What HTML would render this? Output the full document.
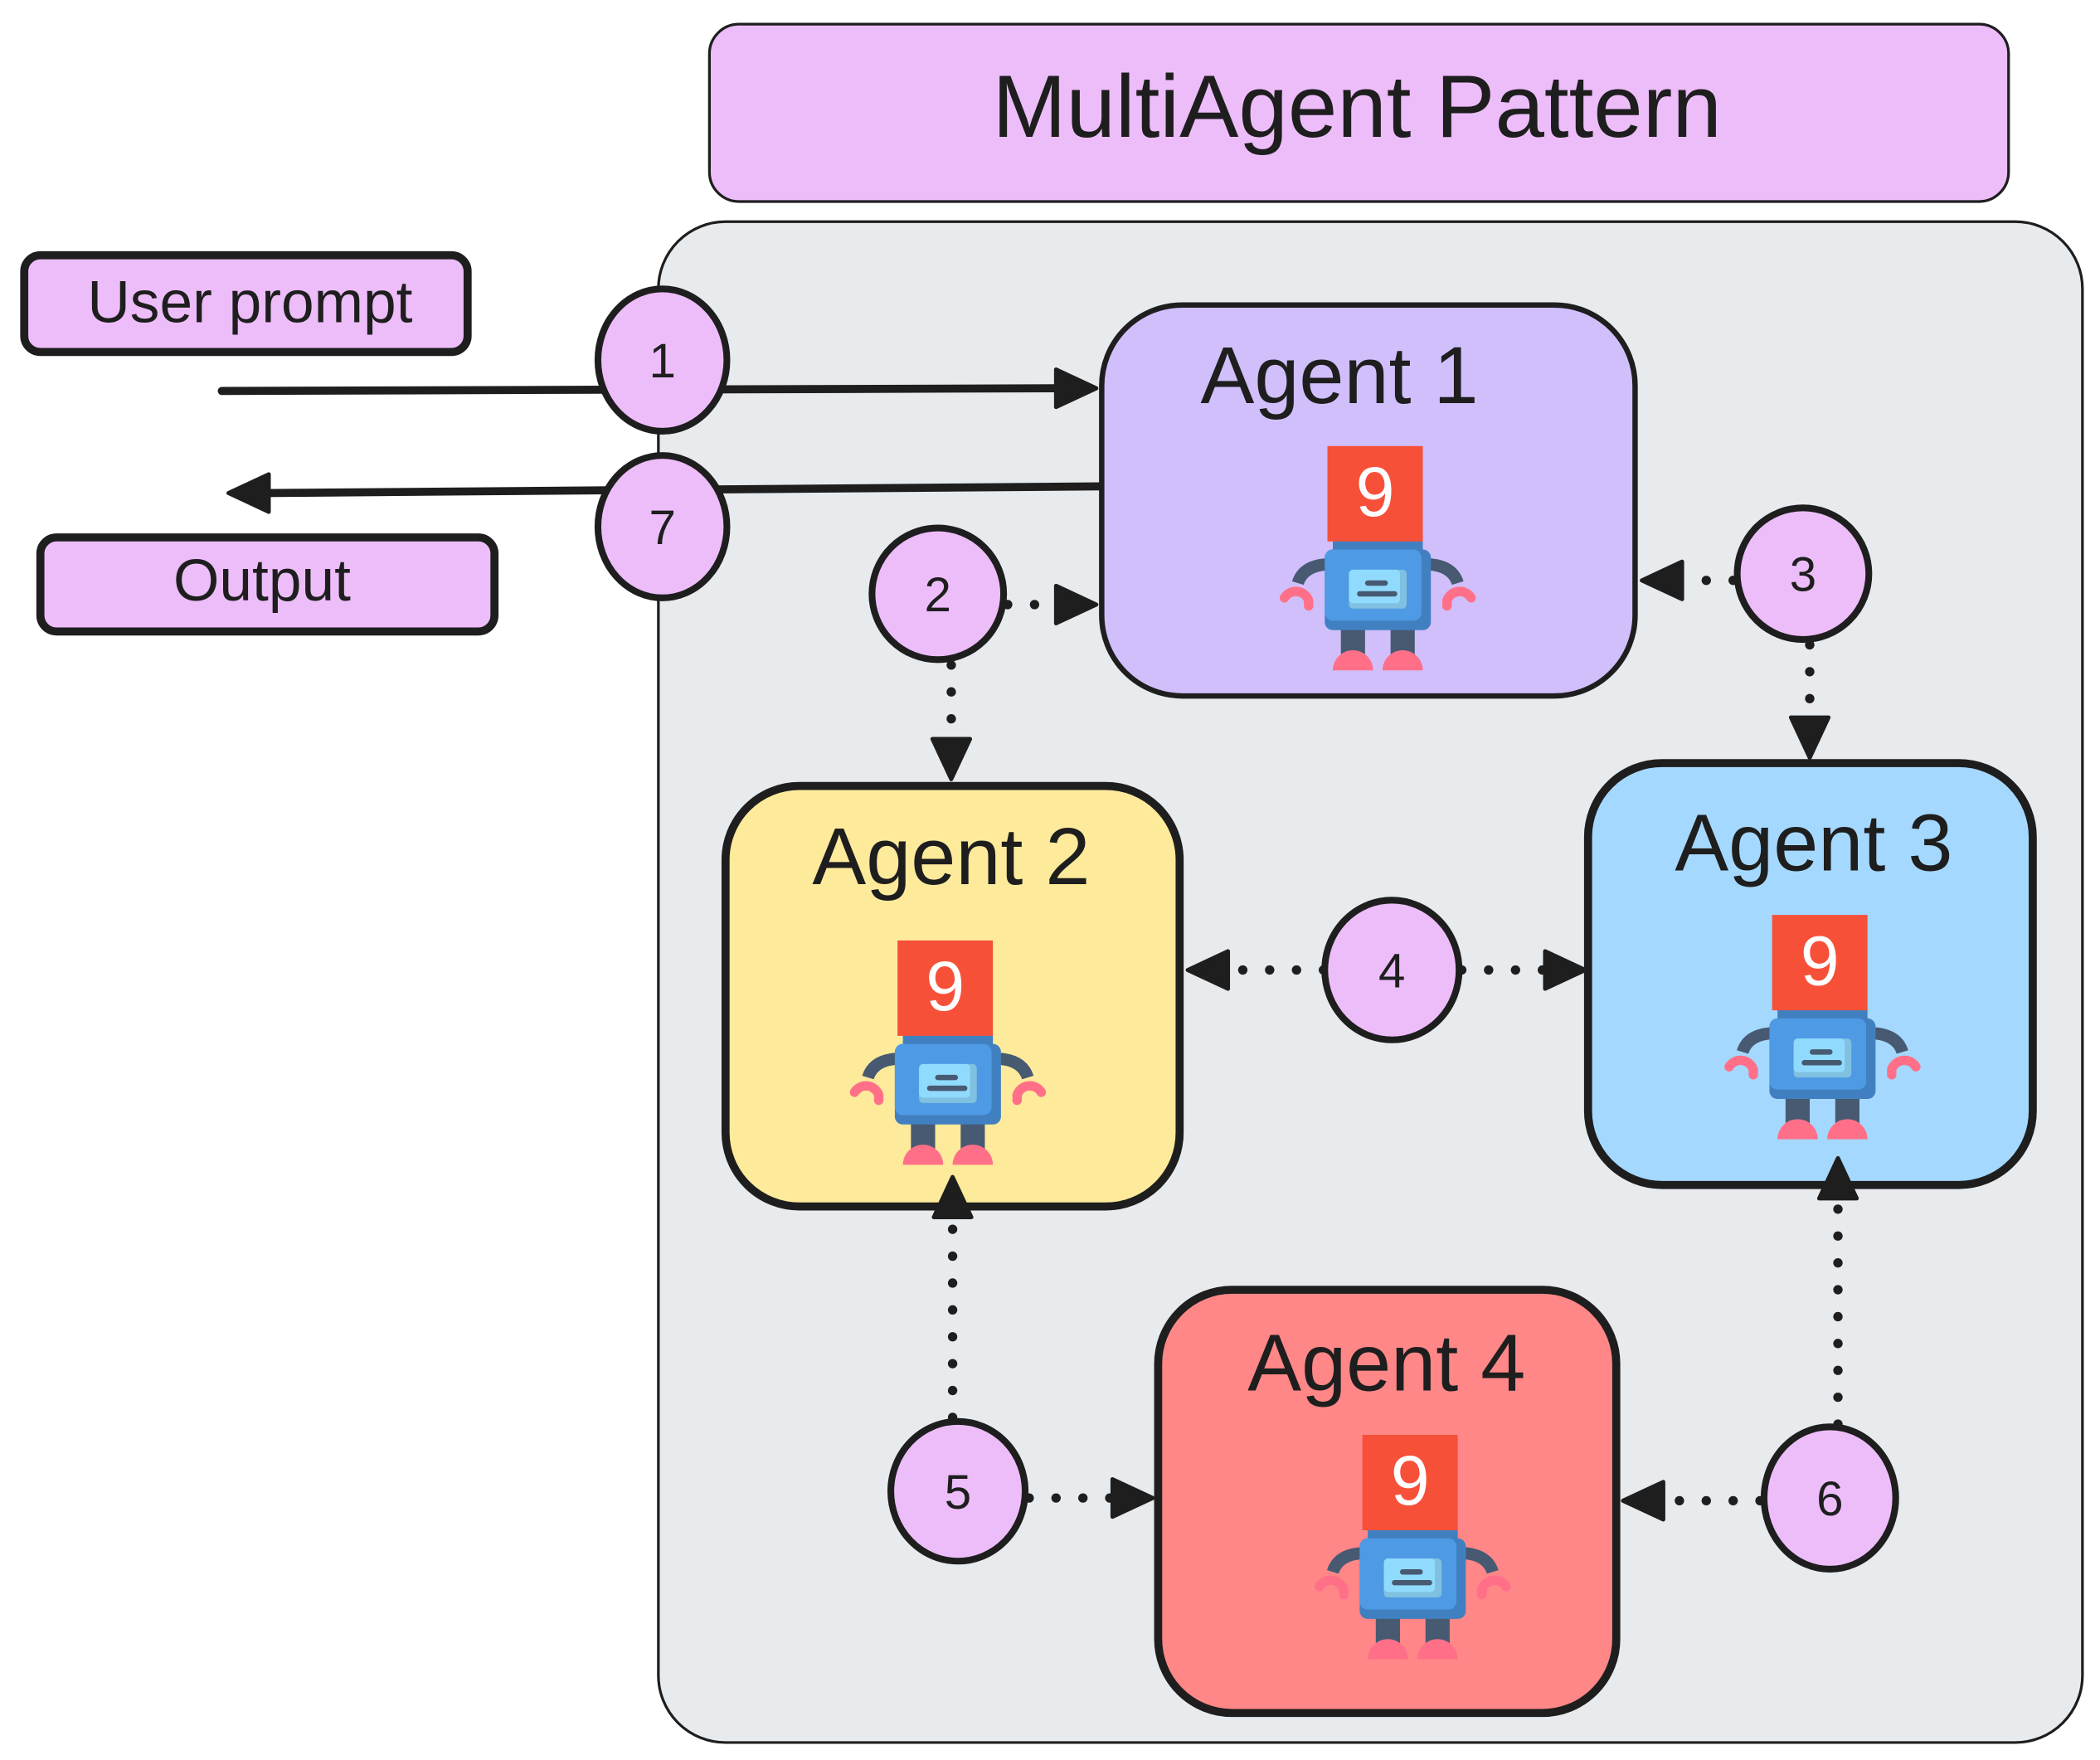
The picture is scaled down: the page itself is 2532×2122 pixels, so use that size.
<!DOCTYPE html>
<html><head><meta charset="utf-8"><style>
html,body{margin:0;padding:0;background:#fff;}
svg{display:block;}
text{font-family:"Liberation Sans","DejaVu Sans",sans-serif;fill:#1e1e1e;}
</style></head><body>
<svg width="2532" height="2122" viewBox="0 0 1563 1310" xmlns="http://www.w3.org/2000/svg">
<defs>
<g id="robot">
  <path d="M0,88 Q-18,89 -22,102" stroke="#475a72" stroke-width="9" fill="none"/>
  <path d="M75,88 Q93,89 97,102" stroke="#475a72" stroke-width="9" fill="none"/>
  <path d="M-32,113 A10,10 0 0 1 -14,115 L-14,119" stroke="#ff7088" stroke-width="7" fill="none" stroke-linecap="round"/>
  <path d="M107,113 A10,10 0 0 0 89,115 L89,119" stroke="#ff7088" stroke-width="7" fill="none" stroke-linecap="round"/>
  <rect x="10" y="135" width="18" height="20" fill="#475a72"/>
  <rect x="47" y="135" width="18" height="20" fill="#475a72"/>
  <path d="M4,167 A15,15 0 0 1 34,167 Z" fill="#ff7088"/>
  <path d="M41,167 A15,15 0 0 1 71,167 Z" fill="#ff7088"/>
  <rect x="4" y="70" width="67" height="8" fill="#4180c0"/>
  <rect x="-2" y="77" width="79" height="60" rx="6" fill="#4180c0"/>
  <rect x="-2" y="77" width="72" height="53" rx="6" fill="#4e9ae4"/>
  <rect x="16" y="92" width="43" height="29" rx="3" fill="#80c0e0"/>
  <rect x="16" y="92" width="38" height="25" rx="3" fill="#90dbfd"/>
  <line x1="30" y1="102" x2="43" y2="102" stroke="#475a72" stroke-width="4" stroke-linecap="round"/>
  <line x1="24" y1="110" x2="50" y2="110" stroke="#475a72" stroke-width="4" stroke-linecap="round"/>
  <rect x="0" y="0" width="71" height="71" fill="#f75039"/>
  <text x="35.5" y="52" font-size="52" text-anchor="middle" style="fill:#fff">9</text>
</g>
</defs>

<rect x="528" y="18" width="967" height="132" rx="22" fill="#edbdf9" stroke="#1e1e1e" stroke-width="2"/>
<text x="1010" y="102" font-size="66" text-anchor="middle">MultiAgent Pattern</text>

<rect x="490" y="165" width="1060" height="1132" rx="50" fill="#e8ebee" stroke="#1e1e1e" stroke-width="2"/>

<rect x="18" y="190" width="330" height="72" rx="12" fill="#edbdf9" stroke="#1e1e1e" stroke-width="6"/>
<text x="186" y="240" font-size="44" text-anchor="middle">User prompt</text>
<rect x="30" y="400" width="338" height="70" rx="12" fill="#edbdf9" stroke="#1e1e1e" stroke-width="6"/>
<text x="195" y="447" font-size="44" text-anchor="middle">Output</text>

<line x1="165" y1="291" x2="790" y2="289" stroke="#1e1e1e" stroke-width="6" stroke-linecap="round"/>
<polygon points="816,289 786,275 786,303" fill="#1e1e1e" stroke="#1e1e1e" stroke-width="3" stroke-linejoin="round"/>
<line x1="820" y1="362" x2="195" y2="367" stroke="#1e1e1e" stroke-width="6" stroke-linecap="round"/>
<polygon points="170,367 200,353 200,381" fill="#1e1e1e" stroke="#1e1e1e" stroke-width="3" stroke-linejoin="round"/>

<rect x="820" y="227" width="397" height="291" rx="60" fill="#d0bffb" stroke="#1e1e1e" stroke-width="4"/>
<text x="997" y="300" font-size="60" text-anchor="middle">Agent 1</text>
<use href="#robot" x="988" y="332"/>

<rect x="540" y="585" width="338" height="313" rx="55" fill="#fdea9b" stroke="#1e1e1e" stroke-width="6"/>
<text x="708" y="658" font-size="60" text-anchor="middle">Agent 2</text>
<use href="#robot" x="668" y="700"/>

<rect x="1182" y="568" width="331" height="314" rx="55" fill="#a5d8fe" stroke="#1e1e1e" stroke-width="6"/>
<text x="1350" y="648" font-size="60" text-anchor="middle">Agent 3</text>
<use href="#robot" x="1319" y="681"/>

<rect x="862" y="960" width="341" height="315" rx="55" fill="#ff8787" stroke="#1e1e1e" stroke-width="6"/>
<text x="1032" y="1035" font-size="60" text-anchor="middle">Agent 4</text>
<use href="#robot" x="1014" y="1068"/>

<g stroke="#1e1e1e" stroke-width="7" stroke-linecap="round" stroke-dasharray="0 20" fill="none">
  <line x1="750" y1="450" x2="785" y2="450"/>
  <line x1="708" y1="495" x2="708" y2="550"/>
  <line x1="1290" y1="432" x2="1255" y2="432"/>
  <line x1="1347" y1="480" x2="1347" y2="535"/>
  <line x1="985" y1="722" x2="915" y2="722"/>
  <line x1="1088" y1="722" x2="1150" y2="722"/>
  <line x1="709" y1="1055" x2="709" y2="905"/>
  <line x1="766" y1="1115" x2="830" y2="1115"/>
  <line x1="1310" y1="1117" x2="1240" y2="1117"/>
  <line x1="1368" y1="1060" x2="1368" y2="892"/>
</g>
<g fill="#1e1e1e" stroke="#1e1e1e" stroke-width="3" stroke-linejoin="round">
  <polygon points="816,450 786,436 786,464"/>
  <polygon points="708,580 694,550 722,550"/>
  <polygon points="1222,432 1252,418 1252,446"/>
  <polygon points="1347,564 1333,534 1361,534"/>
  <polygon points="884,722 914,708 914,736"/>
  <polygon points="1180,722 1150,708 1150,736"/>
  <polygon points="709,876 695,906 723,906"/>
  <polygon points="858,1115 828,1101 828,1129"/>
  <polygon points="1208,1117 1238,1103 1238,1131"/>
  <polygon points="1368,862 1354,892 1382,892"/>
</g>

<g fill="#edbdf9" stroke="#1e1e1e" stroke-width="5">
  <ellipse cx="493" cy="268" rx="48" ry="53"/>
  <ellipse cx="493" cy="392" rx="48" ry="53"/>
  <circle cx="698" cy="442" r="49"/>
  <circle cx="1342" cy="427" r="49"/>
  <ellipse cx="1036" cy="722" rx="50" ry="52"/>
  <ellipse cx="713" cy="1110" rx="50" ry="52"/>
  <ellipse cx="1362" cy="1115" rx="49" ry="53"/>
</g>
<g font-size="36" text-anchor="middle">
  <text x="493" y="281">1</text>
  <text x="493" y="405">7</text>
  <text x="698" y="455">2</text>
  <text x="1342" y="440">3</text>
  <text x="1036" y="735">4</text>
  <text x="713" y="1123">5</text>
  <text x="1362" y="1128">6</text>
</g>
</svg>
</body></html>
